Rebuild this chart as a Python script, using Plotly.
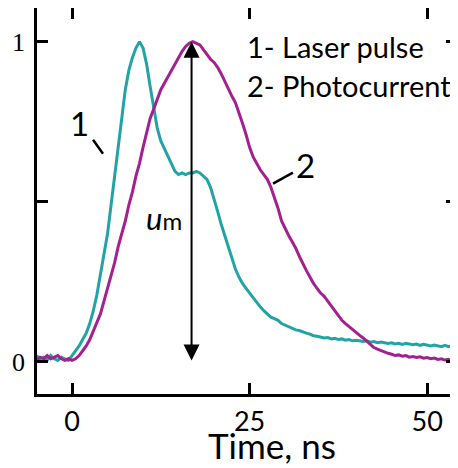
import numpy as np
import plotly.graph_objects as go

# time grid, ns
time_ns = np.arange(-5.0, 55.0, 0.5)

# 1 - laser pulse (normalized)
laser = [0.02, 0.01, 0.015, 0.005, 0.02, 0.01, 0.005, 0.015, 0.01, 0.005,
         0.02, 0.035, 0.05, 0.07, 0.09, 0.12, 0.16, 0.21, 0.27, 0.33,
         0.40, 0.49, 0.58, 0.68, 0.77, 0.85, 0.91, 0.95, 0.98, 1.0,
         0.98, 0.93, 0.86, 0.79, 0.73, 0.69, 0.665, 0.64, 0.615, 0.595,
         0.585, 0.59, 0.585, 0.59, 0.59, 0.595, 0.59, 0.58, 0.57, 0.545,
         0.51, 0.47, 0.43, 0.395, 0.355, 0.32, 0.29, 0.265, 0.245, 0.23,
         0.215, 0.2, 0.185, 0.172, 0.16, 0.15, 0.14, 0.135, 0.13, 0.12,
         0.115, 0.11, 0.105, 0.1, 0.098, 0.093, 0.09, 0.087, 0.082, 0.08,
         0.078, 0.075, 0.076, 0.072, 0.074, 0.07, 0.072, 0.068, 0.07, 0.066,
         0.068, 0.066, 0.064, 0.066, 0.062, 0.064, 0.06, 0.062, 0.06, 0.058,
         0.06, 0.056, 0.058, 0.055, 0.058, 0.056, 0.054, 0.056, 0.052, 0.055,
         0.053, 0.05, 0.053, 0.05, 0.048, 0.052, 0.048, 0.05, 0.045, 0.046]

# 2 - photocurrent (normalized)
photocurrent = [0.005, 0.015, 0.01, 0.02, 0.01, 0.015, 0.02, 0.01, 0.005, 0.01,
                0.005, 0.01, 0.02, 0.035, 0.05, 0.07, 0.095, 0.12, 0.15, 0.19,
                0.23, 0.27, 0.31, 0.36, 0.40, 0.44, 0.49, 0.53, 0.58, 0.62,
                0.67, 0.72, 0.76, 0.79, 0.82, 0.85, 0.87, 0.89, 0.91, 0.93,
                0.95, 0.97, 0.985, 0.995, 1.0, 0.995, 0.99, 0.975, 0.96, 0.945,
                0.935, 0.92, 0.9, 0.875, 0.85, 0.83, 0.81, 0.78, 0.745, 0.71,
                0.67, 0.64, 0.62, 0.60, 0.585, 0.57, 0.545, 0.515, 0.48, 0.44,
                0.415, 0.395, 0.375, 0.355, 0.33, 0.305, 0.285, 0.265, 0.245, 0.23,
                0.215, 0.205, 0.19, 0.175, 0.16, 0.145, 0.13, 0.12, 0.11, 0.1,
                0.09, 0.083, 0.075, 0.065, 0.055, 0.045, 0.04, 0.035, 0.03, 0.027,
                0.024, 0.02, 0.022, 0.018, 0.02, 0.015, 0.017, 0.014, 0.016, 0.012,
                0.014, 0.01, 0.012, 0.008, 0.01, 0.006, 0.008, 0.005, 0.006, 0.005]

x_ticks = [0, 25, 50]
y_ticks = [0, 0.5, 1]
y_ticktext = ["0", "", "1"]

TEAL = "#22a3a6"
MAGENTA = "#a3218f"
SANS = "Lato"

fig = go.Figure()
fig.add_trace(go.Scatter(x=time_ns, y=laser, mode="lines",
                         line=dict(color=TEAL, width=3), showlegend=False))
fig.add_trace(go.Scatter(x=time_ns, y=photocurrent, mode="lines",
                         line=dict(color=MAGENTA, width=3), showlegend=False))

axis_common = dict(showline=True, linecolor="black", linewidth=2.5, mirror="ticks",
                   ticks="inside", ticklen=11, tickwidth=2.5, tickcolor="black",
                   showgrid=False, zeroline=False, automargin=False)

fig.update_xaxes(range=[-4.93, 54.2], tickvals=x_ticks,
                 tickfont=dict(family=SANS, size=27, color="black"),
                 ticklabelstandoff=2, **axis_common)
fig.update_yaxes(range=[-0.1, 1.105], tickvals=y_ticks, ticktext=y_ticktext,
                 tickfont=dict(family="Liberation Serif", size=26, color="black"),
                 ticklabelstandoff=4, **axis_common)

ann_font = dict(family=SANS, color="black")
annotations = [
    dict(x=24.35, y=0.985, xref="x", yref="y", text="1- Laser pulse", showarrow=False,
         xanchor="left", yanchor="middle", font=dict(size=29, **ann_font)),
    dict(x=24.35, y=0.862, xref="x", yref="y", text="2- Photocurrent", showarrow=False,
         xanchor="left", yanchor="middle", font=dict(size=29, **ann_font)),
    dict(x=1.0, y=0.745, xref="x", yref="y", text="1", showarrow=False,
         xanchor="center", yanchor="middle", font=dict(size=33, **ann_font)),
    dict(x=32.8, y=0.615, xref="x", yref="y", text="2", showarrow=False,
         xanchor="center", yanchor="middle", font=dict(size=33, **ann_font)),
    dict(x=12.9, y=0.449, xref="x", yref="y",
         text="<i>u</i><span style='font-size:24px'>m</span>", showarrow=False,
         xanchor="center", yanchor="middle", font=dict(size=31, **ann_font)),
    dict(x=28.1, y=-0.132, xref="x", yref="paper", text="Time, ns", showarrow=False,
         xanchor="center", yanchor="middle", font=dict(size=35, **ann_font)),
    # double-headed arrow u_m
    dict(x=16.83, y=1.0, ax=16.83, ay=0.0, xref="x", yref="y", axref="x", ayref="y",
         text="", showarrow=True, arrowhead=2, arrowside="end+start",
         arrowsize=1.6, arrowwidth=2, arrowcolor="black"),
]

shapes = [
    dict(type="line", xref="x", yref="y", x0=2.96, y0=0.694, x1=4.36, y1=0.650,
         line=dict(color="black", width=2.5)),
    dict(type="line", xref="x", yref="y", x0=28.3, y0=0.557, x1=31.1, y1=0.591,
         line=dict(color="black", width=2.5)),
]

# page body has an 8px default margin; figure size/margins compensate for it
fig.update_layout(width=450, height=460,
                  margin=dict(l=29, r=1, t=0, b=74),
                  paper_bgcolor="white", plot_bgcolor="white",
                  annotations=annotations, shapes=shapes)

fig.write_html("out.html")
